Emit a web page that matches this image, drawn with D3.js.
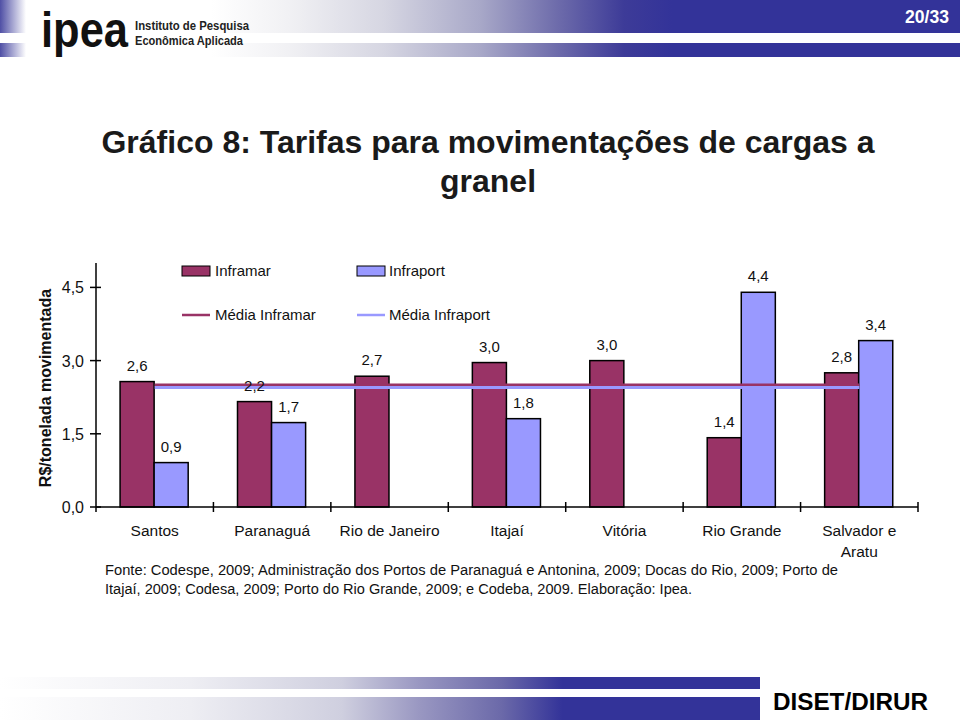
<!DOCTYPE html>
<html><head><meta charset="utf-8">
<script src="https://cdn.jsdelivr.net/npm/d3@7"></script>
<style>
html,body{margin:0;padding:0;background:#fff;}
svg{display:block;font-family:"Liberation Sans",Arial,sans-serif;}
</style></head>
<body>
<svg id="chart" width="960" height="720"></svg>
<script>
const categories = ["Santos","Paranaguá","Rio de Janeiro","Itajaí","Vitória","Rio Grande","Salvador e Aratu"];
const inframar  = [2.57, 2.16, 2.68, 2.96, 3.00, 1.42, 2.75];
const infraport = [0.91, 1.73, null, 1.81, null, 4.40, 3.41];
const mediaInframar = 2.50;
const mediaInfraport = 2.45;
const yTicks = [0, 1.5, 3.0, 4.5];
const seriesNames = ["Inframar","Infraport"];
const mediaNames = ["Média Inframar","Média Infraport"];
const colors = ["#993366","#9999FF"];
const titleLines = ["Gráfico 8: Tarifas para movimentações de cargas a","granel"];
const sourceLines = ["Fonte:  Codespe, 2009; Administração dos Portos de Paranaguá e Antonina, 2009; Docas do Rio, 2009; Porto de",
  "Itajaí, 2009; Codesa, 2009; Porto do Rio Grande, 2009; e Codeba, 2009. Elaboração: Ipea."];

const svg = d3.select("#chart");
const defs = svg.append("defs");

// Header gradient
const hg = defs.append("linearGradient").attr("id","hg").attr("x1","0").attr("x2","1").attr("y1","0").attr("y2","0");
[[0,"#ffffff"],[0.22,"#ffffff"],[0.3,"#f1f1f4"],[0.4,"#d6d6e2"],[0.5,"#a8a8c8"],[0.58,"#6e6cab"],[0.65,"#3d3b98"],[0.7,"#333399"],[1,"#333399"]]
  .forEach(s=>hg.append("stop").attr("offset",s[0]).attr("stop-color",s[1]));
const lg = defs.append("linearGradient").attr("id","lg").attr("x1","0").attr("x2","1").attr("y1","0").attr("y2","0");
[[0,"#4f4fa5"],[1,"#ffffff"]].forEach(s=>lg.append("stop").attr("offset",s[0]).attr("stop-color",s[1]));
const fg = defs.append("linearGradient").attr("id","fg").attr("x1","0").attr("x2","1").attr("y1","0").attr("y2","0");
[[0,"#ffffff"],[0.25,"#eeeef3"],[0.45,"#cfcfdf"],[0.55,"#9a98c2"],[0.66,"#6b69a9"],[0.74,"#333399"],[1,"#333399"]]
  .forEach(s=>fg.append("stop").attr("offset",s[0]).attr("stop-color",s[1]));

svg.append("rect").attr("x",0).attr("y",0).attr("width",960).attr("height",33).attr("fill","url(#hg)");
svg.append("rect").attr("x",0).attr("y",43).attr("width",960).attr("height",14).attr("fill","url(#hg)");
svg.append("rect").attr("x",0).attr("y",0).attr("width",26).attr("height",33).attr("fill","url(#lg)");
svg.append("rect").attr("x",0).attr("y",43).attr("width",26).attr("height",14).attr("fill","url(#lg)");

svg.append("text").attr("x",41).attr("y",47).attr("font-size",50).attr("font-weight","bold")
  .attr("textLength",87).attr("lengthAdjust","spacingAndGlyphs").attr("fill","#111").text("ipea");
svg.append("text").attr("x",135).attr("y",30).attr("font-size",13).attr("font-weight","bold")
  .attr("textLength",114).attr("lengthAdjust","spacingAndGlyphs").attr("fill","#222").text("Instituto de Pesquisa");
svg.append("text").attr("x",135).attr("y",45).attr("font-size",13).attr("font-weight","bold")
  .attr("textLength",108).attr("lengthAdjust","spacingAndGlyphs").attr("fill","#222").text("Econômica Aplicada");
svg.append("text").attr("x",905).attr("y",23).attr("font-size",18).attr("font-weight","bold")
  .attr("textLength",44).attr("lengthAdjust","spacingAndGlyphs").attr("fill","#fff").text("20/33");

// Footer
svg.append("rect").attr("x",0).attr("y",677).attr("width",760).attr("height",12).attr("fill","url(#fg)");
svg.append("rect").attr("x",0).attr("y",697).attr("width",760).attr("height",23).attr("fill","url(#fg)");
svg.append("text").attr("x",773).attr("y",710).attr("font-size",24).attr("font-weight","bold")
  .attr("textLength",155).attr("lengthAdjust","spacingAndGlyphs").attr("fill","#000").text("DISET/DIRUR");

// Title
svg.append("g").selectAll("text").data(titleLines).join("text")
  .attr("x",488).attr("y",(d,i)=>153+i*39).attr("text-anchor","middle")
  .attr("font-size",32).attr("font-weight","bold").attr("fill","#1a1a1a").text(d=>d);

// Scales
const x = d3.scaleBand().domain(categories).range([96,918]).paddingInner(0).paddingOuter(0);
const bw = x.bandwidth();
const x1 = d3.scaleBand().domain(seriesNames).range([bw*0.205, bw*0.785]);
const y = d3.scaleLinear().domain([0,5]).range([507,263]);
const fmt = v => d3.format(".1f")(v).replace(".",",");

const rows = categories.map((c,i)=>({c, vals:[{s:seriesNames[0],v:inframar[i],col:colors[0]},{s:seriesNames[1],v:infraport[i],col:colors[1]}]}));

// Bars
const gb = svg.append("g");
rows.forEach(r=>{
  r.vals.filter(d=>d.v!=null).forEach(d=>{
    gb.append("rect").attr("x",x(r.c)+x1(d.s)).attr("y",y(d.v)).attr("width",x1.bandwidth())
      .attr("height",y(0)-y(d.v)).attr("fill",d.col).attr("stroke","#000").attr("stroke-width",1.5);
  });
});

// Mean lines
const lineGen = d3.line().x(d=>x(d)+bw/2);
[[mediaInframar,colors[0]],[mediaInfraport,colors[1]]].forEach(([m,col],k)=>{
  svg.append("path").attr("d",lineGen.y(()=>y(m))(categories))
    .attr("stroke",col).attr("stroke-width",3).attr("fill","none");
});

// Data labels
const gl = svg.append("g").attr("font-size",15).attr("fill","#111").attr("text-anchor","middle");
rows.forEach(r=>{
  r.vals.filter(d=>d.v!=null).forEach(d=>{
    gl.append("text").attr("x",x(r.c)+x1(d.s)+x1.bandwidth()/2).attr("y",y(d.v)-11).text(fmt(d.v));
  });
});

// Axes
const yAxis = svg.append("g");
yAxis.append("line").attr("x1",96).attr("x2",96).attr("y1",y(5)).attr("y2",y(0)+5).attr("stroke","#000").attr("stroke-width",1.5);
yAxis.selectAll(".t").data(yTicks).join("line").attr("x1",90).attr("x2",101).attr("y1",d=>y(d)).attr("y2",d=>y(d)).attr("stroke","#000").attr("stroke-width",1.5);
yAxis.selectAll("text").data(yTicks).join("text").attr("x",84).attr("y",d=>y(d)+6).attr("text-anchor","end")
  .attr("font-size",16).attr("fill","#111").text(d=>d3.format(".1f")(d).replace(".",","));

const xAxis = svg.append("g");
xAxis.append("line").attr("x1",96).attr("x2",918).attr("y1",y(0)).attr("y2",y(0)).attr("stroke","#000").attr("stroke-width",1.5);
const bounds = categories.map(c=>x(c)).concat([x(categories[categories.length-1])+bw]);
xAxis.selectAll(".tk").data(bounds.slice(1)).join("line").attr("x1",d=>d).attr("x2",d=>d)
  .attr("y1",y(0)-5).attr("y2",y(0)+5).attr("stroke","#000").attr("stroke-width",1.5);
const cl = xAxis.selectAll(".cl").data(categories).join("text").attr("text-anchor","middle")
  .attr("font-size",15.5).attr("fill","#111");
cl.each(function(c){
  const t = d3.select(this);
  const parts = c==="Salvador e Aratu" ? ["Salvador e","Aratu"] : [c];
  parts.forEach((p,i)=>t.append("tspan").attr("x",x(c)+bw/2).attr("y",536+i*21).text(p));
});

// Y title
svg.append("text").attr("transform","translate(51,388) rotate(-90)").attr("text-anchor","middle")
  .attr("font-size",16).attr("font-weight","bold").attr("fill","#111").text("R$/tonelada movimentada");

// Legend
const leg = svg.append("g").attr("font-size",15).attr("fill","#111");
[[182,215],[357,389]].forEach(([sx,tx],i)=>{
  leg.append("rect").attr("x",sx).attr("y",266).attr("width",28).attr("height",10).attr("fill",colors[i]).attr("stroke","#000").attr("stroke-width",1);
  leg.append("text").attr("x",tx).attr("y",276).text(seriesNames[i]);
  leg.append("line").attr("x1",sx).attr("x2",sx+28).attr("y1",315).attr("y2",315).attr("stroke",colors[i]).attr("stroke-width",2.5);
  leg.append("text").attr("x",tx).attr("y",320).text(mediaNames[i]);
});

// Source
svg.append("g").selectAll("text").data(sourceLines).join("text")
  .attr("x",105).attr("y",(d,i)=>575+i*19).attr("font-size",14).attr("fill","#111")
  .attr("textLength",(d,i)=>i===0?733:587).attr("lengthAdjust","spacingAndGlyphs").text(d=>d);
</script>
</body></html>
